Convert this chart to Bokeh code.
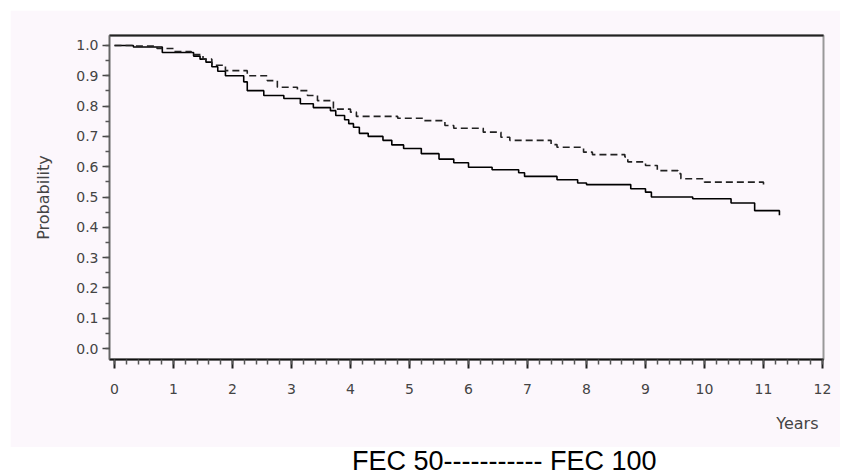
from bokeh.plotting import figure
from bokeh.models import FixedTicker, Div, Range1d, LinearAxis, Title
from bokeh.layouts import column
from bokeh.embed import file_html
from bokeh.resources import INLINE

# FEC 50 (solid) Kaplan-Meier steps
fec50_years = [0, 0.32, 0.81, 1.34, 1.45, 1.55, 1.65, 1.75, 1.88, 2.19, 2.25, 2.53, 2.87,
               3.15, 3.37, 3.66, 3.75, 3.9, 3.97, 4.05, 4.15, 4.3, 4.55, 4.7, 4.9, 5.2, 5.5,
               5.75, 6.0, 6.4, 6.85, 6.95, 7.5, 7.85, 8.0, 8.75, 9.0, 9.1, 9.8, 10.45, 10.85,
               11.27]
fec50_prob = [1.0, 0.995, 0.977, 0.965, 0.955, 0.945, 0.93, 0.915, 0.90, 0.88, 0.851,
              0.835, 0.825, 0.808, 0.795, 0.785, 0.769, 0.755, 0.742, 0.73, 0.71, 0.70,
              0.687, 0.672, 0.66, 0.643, 0.625, 0.613, 0.598, 0.59, 0.58, 0.568, 0.557,
              0.546, 0.541, 0.527, 0.516, 0.50, 0.494, 0.48, 0.455, 0.44]

# FEC 100 (dashed) Kaplan-Meier steps
fec100_years = [0, 0.33, 0.72, 1.0, 1.3, 1.5, 1.65, 1.88, 2.25, 2.59, 2.76, 3.1, 3.27, 3.44,
                3.71, 4.0, 4.1, 4.8, 5.25, 5.6, 5.75, 6.25, 6.55, 6.7, 7.4, 7.5, 7.95, 8.1,
                8.65, 8.7, 9.0, 9.2, 9.55, 9.6, 10.0, 11.0]
fec100_prob = [1.0, 0.998, 0.99, 0.98, 0.97, 0.955, 0.935, 0.917, 0.90, 0.884, 0.862, 0.851,
               0.835, 0.818, 0.79, 0.78, 0.766, 0.76, 0.752, 0.736, 0.727, 0.714, 0.697,
               0.687, 0.673, 0.664, 0.648, 0.64, 0.632, 0.616, 0.604, 0.587, 0.577, 0.56,
               0.549, 0.535]

x_ticks = [0, 1, 2, 3, 4, 5, 6, 7, 8, 9, 10, 11, 12]
x_tick_labels = ["0", "1", "2", "3", "4", "5", "6", "7", "8", "9", "10", "11", "12"]
y_ticks = [0.0, 0.1, 0.2, 0.3, 0.4, 0.5, 0.6, 0.7, 0.8, 0.9, 1.0]
y_tick_labels = ["0.0", "0.1", "0.2", "0.3", "0.4", "0.5", "0.6", "0.7", "0.8", "0.9", "1.0"]

x_label = "Years"
y_label = "Probability"
caption = "FEC 50----------- FEC 100"

PINK = "#fcf7fc"
FONT = "DejaVu Sans"
TXT = "#444444"

p = figure(width=830, height=437, output_backend="svg", toolbar_location=None,
           x_range=Range1d(-0.085, 12.017), y_range=Range1d(-0.0363, 1.033),
           min_border_left=99, min_border_right=17, min_border_top=25, min_border_bottom=88,
           background_fill_color=PINK, border_fill_color=PINK, margin=(10, 7, 0, 10))
p.grid.visible = False
p.outline_line_color = "#999999"
p.outline_line_width = 2

x_minor = [i / 5 for i in range(0, 61)]
y_minor = [i / 20 for i in range(0, 21)]

xa = p.xaxis[0]
xa.ticker = FixedTicker(ticks=x_ticks, minor_ticks=x_minor)
xa.major_label_overrides = {t: l for t, l in zip(x_ticks, x_tick_labels)}
xa.axis_line_color = "#111111"
xa.axis_line_width = 2
xa.major_tick_line_color = "#222222"
xa.major_tick_line_width = 2
xa.minor_tick_line_color = "#555555"
xa.minor_tick_line_width = 1.5
xa.major_tick_out = 9
xa.major_tick_in = 0
xa.minor_tick_out = 5
xa.minor_tick_in = 0
xa.major_label_standoff = 15
xa.major_label_text_font = FONT
xa.major_label_text_font_size = "14px"
xa.major_label_text_color = TXT

ya = p.yaxis[0]
ya.ticker = FixedTicker(ticks=y_ticks, minor_ticks=y_minor)
ya.major_label_overrides = {t: l for t, l in zip(y_ticks, y_tick_labels)}
ya.axis_line_color = "#666666"
ya.axis_line_width = 1.5
ya.major_tick_line_color = "#444444"
ya.major_tick_line_width = 1.5
ya.minor_tick_line_color = "#555555"
ya.minor_tick_line_width = 1.5
ya.major_tick_out = 7
ya.major_tick_in = 0
ya.minor_tick_out = 4
ya.minor_tick_in = 0
ya.major_label_standoff = 4
ya.major_label_text_font = FONT
ya.major_label_text_font_size = "14px"
ya.major_label_text_color = TXT
ya.axis_label = y_label
ya.axis_label_text_font = FONT
ya.axis_label_text_font_size = "16px"
ya.axis_label_text_font_style = "normal"
ya.axis_label_text_color = TXT
ya.axis_label_standoff = 20

top = LinearAxis(ticker=FixedTicker(ticks=[]), major_label_text_font_size="0px",
                 axis_line_color="#222222", axis_line_width=2,
                 major_tick_out=0, minor_tick_out=0, major_tick_in=0, minor_tick_in=0)
p.add_layout(top, "above")

p.step(fec50_years, fec50_prob, mode="after", line_color="#000000", line_width=1.6)
p.step(fec100_years, fec100_prob, mode="after", line_color="#222222", line_width=1.6,
       line_dash="7 4")

years_title = Title(text=x_label, align="right", offset=5, standoff=30,
                    text_font=FONT, text_font_size="16px", text_font_style="normal",
                    text_color=TXT)
p.add_layout(years_title, "below")

cap = Div(text=caption, width=847, height=29, margin=0,
          styles={"font-family": "Liberation Sans, Arial, sans-serif", "font-size": "27px",
                  "color": "#000000", "padding-left": "352px", "line-height": "29px",
                  "white-space": "pre", "background": "#ffffff"})

layout = column(p, cap, spacing=0)
open("out.html", "w").write(file_html(layout, INLINE))
